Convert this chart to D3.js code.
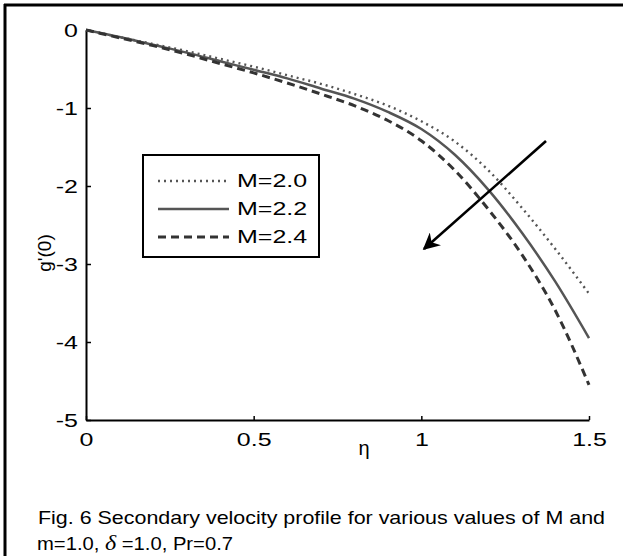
<!DOCTYPE html>
<html><head><meta charset="utf-8">
<script src="https://cdn.jsdelivr.net/npm/d3@7/dist/d3.min.js"></script>
<style>body{margin:0;background:#fff}svg{display:block}text{font-family:Arial,"Liberation Sans",sans-serif}</style>
</head><body>
<script>
const eta = [0,0.1,0.2,0.3,0.4,0.5,0.6,0.7,0.8,0.9,1.0,1.1,1.2,1.3,1.4,1.5];
const m20 = [0,-0.09,-0.18,-0.27,-0.37,-0.47,-0.58,-0.69,-0.82,-0.97,-1.17,-1.43,-1.80,-2.28,-2.81,-3.38];
const m22 = [0,-0.09,-0.19,-0.29,-0.40,-0.51,-0.62,-0.75,-0.88,-1.05,-1.27,-1.60,-2.05,-2.60,-3.23,-3.95];
const m24 = [0,-0.10,-0.20,-0.31,-0.43,-0.55,-0.68,-0.82,-0.97,-1.16,-1.42,-1.80,-2.30,-2.88,-3.60,-4.55];
const seriesNames = ["M=2.0","M=2.2","M=2.4"];
const xTicks = [0,0.5,1,1.5];
const xTickLabels = ["0","0.5","1","1.5"];
const yTicks = [0,-1,-2,-3,-4,-5];
const captionLine1 = "Fig. 6 Secondary velocity profile for various values of M and";

const W=623,H=556, STRETCH=1.35, FS=18.5;
const svg=d3.select("body").append("svg").attr("width",W).attr("height",H);
function stretch(sel){
  sel.each(function(){
    const L=this.getComputedTextLength();
    d3.select(this).attr("textLength",L*STRETCH).attr("lengthAdjust","spacingAndGlyphs");
  });
}
// frame (top and left only)
svg.append("line").attr("x1",4).attr("x2",W).attr("y1",5).attr("y2",5).attr("stroke","#000").attr("stroke-width",3);
svg.append("line").attr("x1",5).attr("x2",5).attr("y1",4).attr("y2",H).attr("stroke","#000").attr("stroke-width",3);

const x=d3.scaleLinear().domain([0,1.5]).range([86,589]);
const y=d3.scaleLinear().domain([-5,0]).range([420,30]);

const xAx=svg.append("g").attr("transform","translate(0,420)")
  .call(d3.axisBottom(x).tickValues(xTicks).tickFormat((d,i)=>xTickLabels[i]).tickSizeInner(-4).tickSizeOuter(0).tickPadding(13));
const yAx=svg.append("g").attr("transform","translate(86,0)")
  .call(d3.axisLeft(y).tickValues(yTicks).tickFormat(d=>d===0?"0":"-"+Math.abs(d)).tickSizeInner(-5).tickSizeOuter(0).tickPadding(8));
[xAx,yAx].forEach(g=>{
  g.attr("font-size",null).attr("font-family",null);
  g.select(".domain").attr("stroke","#000").attr("stroke-width",2);
  g.selectAll(".tick line").attr("stroke","#000").attr("stroke-width",1.5);
  g.selectAll("text").style("font-size",FS+"px").attr("fill","#000");
});
yAx.selectAll("text").attr("dy","0.35em");
xAx.selectAll("text").attr("dy","0.71em");
stretch(xAx.selectAll("text"));
stretch(yAx.selectAll("text"));

const data=[m20,m22,m24];
const styles=[
  {stroke:"#555",w:2.4,dash:"2,4"},
  {stroke:"#555",w:2.5,dash:null},
  {stroke:"#333",w:3,dash:"8,5"}
];
const line=d3.line().x((d,i)=>x(eta[i])).y(d=>y(d)).curve(d3.curveMonotoneX);
data.forEach((s,k)=>{
  const p=svg.append("path").datum(s).attr("d",line).attr("fill","none")
    .attr("stroke",styles[k].stroke).attr("stroke-width",styles[k].w);
  if(styles[k].dash)p.attr("stroke-dasharray",styles[k].dash);
});

// legend
const lg=svg.append("g");
lg.append("rect").attr("x",143).attr("y",155).attr("width",176).attr("height",102).attr("fill","#fff").attr("stroke","#000").attr("stroke-width",2);
seriesNames.forEach((n,k)=>{
  const yy=181+k*28;
  const l=lg.append("line").attr("x1",158).attr("x2",229).attr("y1",yy).attr("y2",yy)
    .attr("stroke",styles[k].stroke).attr("stroke-width",styles[k].w);
  if(styles[k].dash)l.attr("stroke-dasharray",styles[k].dash);
  lg.append("text").attr("x",237).attr("y",yy).attr("dy","0.35em").style("font-size",FS+"px").text(n);
});
stretch(lg.selectAll("text"));

// arrow
const defs=svg.append("defs");
defs.append("marker").attr("id","ah").attr("viewBox","0 0 10 10").attr("refX",9).attr("refY",5)
  .attr("markerWidth",8).attr("markerHeight",6.5).attr("markerUnits","strokeWidth").attr("orient","auto")
  .append("path").attr("d","M0,0 L10,5 L0,10 L3,5 z").attr("fill","#000");
svg.append("line").attr("x1",546).attr("y1",141).attr("x2",424).attr("y2",249)
  .attr("stroke","#000").attr("stroke-width",2.6).attr("marker-end","url(#ah)");

// axis titles
svg.append("text").attr("x",364).attr("y",455).attr("text-anchor","middle").style("font-size","20px")
  .attr("font-family","'DejaVu Sans', sans-serif").text("η");
svg.append("text").attr("transform","translate(51,253) rotate(-90)").attr("text-anchor","middle").style("font-size","19px").text("g'(0)");

// caption
svg.append("text").attr("x",38).attr("y",524).style("font-size","18.5px").attr("textLength",567).attr("lengthAdjust","spacingAndGlyphs").text(captionLine1);
const c2=svg.append("text").attr("x",37).attr("y",550).style("font-size","18.5px").attr("textLength",196).attr("lengthAdjust","spacingAndGlyphs");
c2.append("tspan").text("m=1.0,  ");
c2.append("tspan").attr("font-family","'Liberation Serif','DejaVu Serif',serif").attr("font-style","italic").style("font-size","22px").text("δ");
c2.append("tspan").text(" =1.0, Pr=0.7");
</script>
</body></html>
